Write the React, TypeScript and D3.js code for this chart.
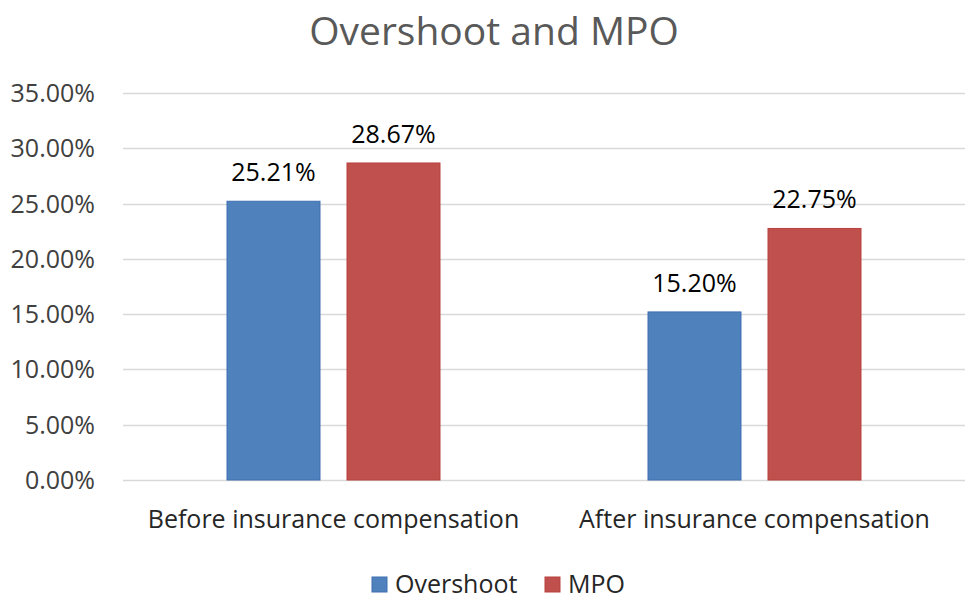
import * as d3 from 'd3';
import { useEffect, useRef } from 'react';

const categories = ['Before insurance compensation', 'After insurance compensation'];
const seriesNames = ['Overshoot', 'MPO'];
const overshoot = [25.21, 15.2];
const mpo = [28.67, 22.75];
const yTicks = [0, 5, 10, 15, 20, 25, 30, 35];

const colors: Record<string, string> = { Overshoot: '#4f81bd', MPO: '#c0504d' };
const strokes: Record<string, string> = { Overshoot: '#3e6fb0', MPO: '#b8403d' };

const FONT = '"Open Sans", "Noto Sans", sans-serif';

export default function App() {
  const svgRef = useRef<SVGSVGElement>(null);

  useEffect(() => {
    if (!svgRef.current) return;
    const svg = d3.select(svgRef.current);
    svg.selectAll('*').remove();

    const left = 123;
    const right = 965;
    const top = 93;
    const bottom = 480;

    const y = d3.scaleLinear().domain([0, 35]).range([bottom, top]);
    const x0 = d3.scaleBand().domain(categories).range([left, right]).padding(0);
    const x1 = d3
      .scaleBand()
      .domain(seriesNames)
      .range([0, x0.bandwidth()])
      .paddingInner(0.2167)
      .paddingOuter(0.8625);

    // Title
    svg
      .append('text')
      .attr('x', 494)
      .attr('y', 45)
      .attr('text-anchor', 'middle')
      .style('font-family', FONT)
      .style('font-size', '39px')
      .style('fill', '#595959')
      .text('Overshoot and MPO');

    // Gridlines
    svg
      .append('g')
      .selectAll('line')
      .data(yTicks)
      .join('line')
      .attr('x1', left)
      .attr('x2', right)
      .attr('y1', (d) => Math.round(y(d)) + 0.5)
      .attr('y2', (d) => Math.round(y(d)) + 0.5)
      .attr('stroke', '#d9d9d9')
      .attr('stroke-width', 1.5);

    // Y axis labels
    svg
      .append('g')
      .selectAll('text')
      .data(yTicks)
      .join('text')
      .attr('x', 95)
      .attr('y', (d) => y(d) + 9)
      .attr('text-anchor', 'end')
      .style('font-family', FONT)
      .style('font-size', '25px')
      .style('fill', '#404040')
      .text((d) => d.toFixed(2) + '%');

    const rows = categories.map((c, i) => ({
      category: c,
      values: [
        { key: 'Overshoot', value: overshoot[i] },
        { key: 'MPO', value: mpo[i] },
      ],
    }));

    const groups = svg
      .append('g')
      .selectAll('g')
      .data(rows)
      .join('g')
      .attr('transform', (d) => `translate(${x0(d.category)},0)`);

    groups
      .selectAll('rect')
      .data((d) => d.values)
      .join('rect')
      .attr('x', (d) => (x1(d.key) ?? 0) + 0.5)
      .attr('y', (d) => y(d.value))
      .attr('width', x1.bandwidth() - 1)
      .attr('height', (d) => bottom - y(d.value))
      .attr('fill', (d) => colors[d.key])
      .attr('stroke', (d) => strokes[d.key])
      .attr('stroke-width', 1);

    groups
      .selectAll('text.val')
      .data((d) => d.values)
      .join('text')
      .attr('class', 'val')
      .attr('x', (d) => (x1(d.key) ?? 0) + x1.bandwidth() / 2)
      .attr('y', (d) => y(d.value) - 20)
      .attr('text-anchor', 'middle')
      .style('font-family', FONT)
      .style('font-size', '25px')
      .style('fill', '#000')
      .text((d) => d.value.toFixed(2) + '%');

    // Category labels
    svg
      .append('g')
      .selectAll('text')
      .data(categories)
      .join('text')
      .attr('x', (d) => (x0(d) ?? 0) + x0.bandwidth() / 2)
      .attr('y', 528)
      .attr('text-anchor', 'middle')
      .style('font-family', FONT)
      .style('font-size', '25px')
      .style('fill', '#262626')
      .text((d) => d);

    // Legend
    const legendX = [372, 545];
    const legend = svg
      .append('g')
      .selectAll('g')
      .data(seriesNames)
      .join('g')
      .attr('transform', (_d, i) => `translate(${legendX[i]},577)`);

    legend
      .append('rect')
      .attr('width', 15)
      .attr('height', 15)
      .attr('fill', (d) => colors[d])
      .attr('stroke', (d) => strokes[d]);

    legend
      .append('text')
      .attr('x', 23)
      .attr('y', 16)
      .style('font-family', FONT)
      .style('font-size', '25px')
      .style('fill', '#262626')
      .text((d) => d);
  }, []);

  return (
    <svg
      ref={svgRef}
      width={976}
      height={599}
      style={{ position: 'fixed', left: 0, top: 0, background: '#fff' }}
    />
  );
}
